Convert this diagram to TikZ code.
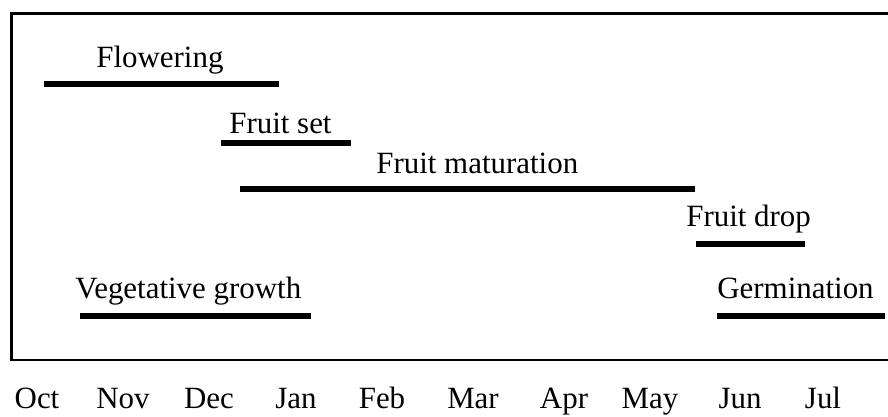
\documentclass[tikz,border=0pt]{standalone}
\usepackage{fontspec}
\setmainfont{Liberation Serif}
\usetikzlibrary{positioning}
\tikzset{phase/.style={line width=3.2pt},
  frame/.style={line width=1.5pt},
  lbl/.style={anchor=base west,inner sep=0pt,font=\fontsize{17.6}{20}\selectfont},
  month/.style={anchor=base,inner sep=0pt,font=\fontsize{17.6}{20}\selectfont}}

\begin{document}
\begin{tikzpicture}[x=0.02cm,y=-0.02cm]
\useasboundingbox (0,0) rectangle (888,416);
\draw[frame] (11.5,13.5) rectangle (900,360);
% phases: name/start/end/bar y/text x/text y/label
\foreach \n/\a/\b/\y/\tx/\ty/\t in {flw/44/279/84/96/67/Flowering,
    set/221/351/143/229/133/Fruit set,
    mat/240/695/189/376/173/Fruit maturation,
    drop/696/805/244/686/226/Fruit drop,
    germ/717/885/316/717/298/Germination,
    veg/80/311/316/75/298/Vegetative growth} {
  \coordinate (\n-s) at (\a,\y);
  \coordinate (\n-e) at (\b,\y);
  \draw[phase] (\n-s) -- (\n-e);
  \node[lbl] (\n) at (\tx,\ty) {\t};
}
% months
\foreach \m/\x in {Oct/37,Nov/123,Dec/209,Jan/296,Feb/382,Mar/473,Apr/564,May/650,Jun/740,Jul/823} {
  \node[month] (m-\m) at (\x,408) {\m};
}
\end{tikzpicture}
\end{document}
